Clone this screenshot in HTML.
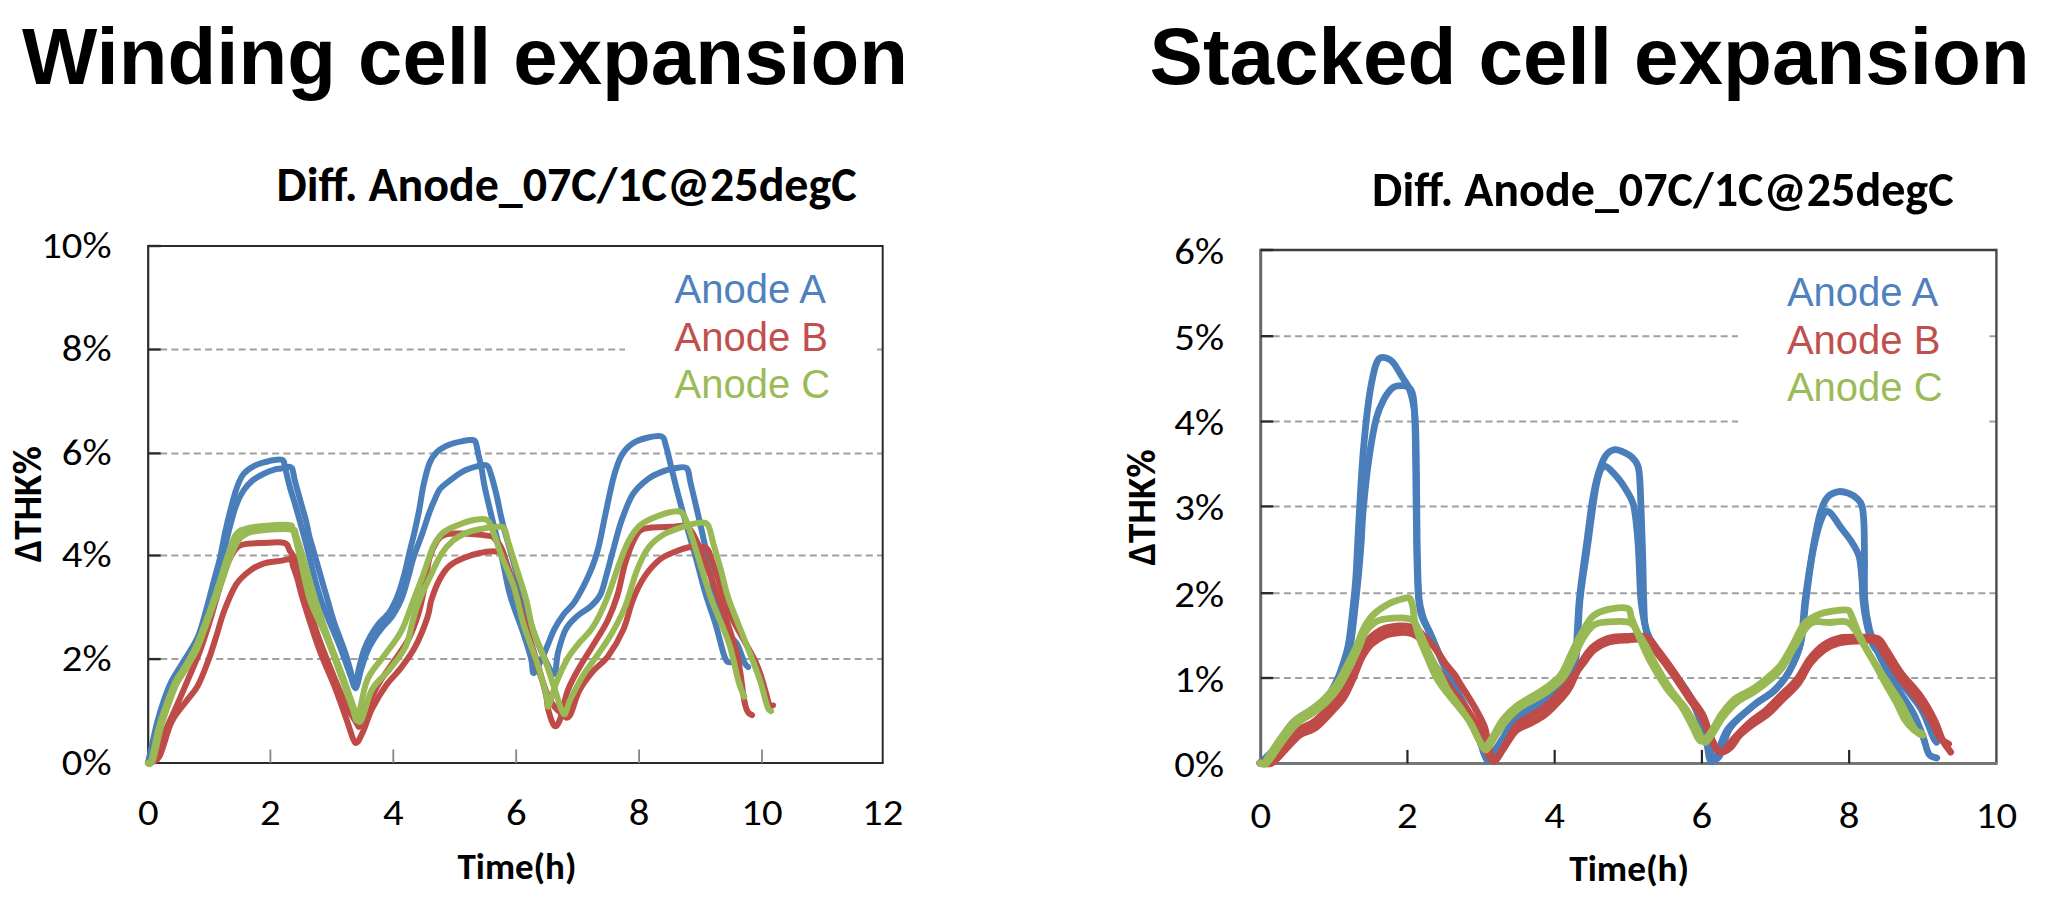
<!DOCTYPE html>
<html><head><meta charset="utf-8"><title>Winding vs Stacked cell expansion</title>
<style>html,body{margin:0;padding:0;background:#fff;} svg{display:block;}</style></head>
<body>
<svg width="2048" height="911" viewBox="0 0 2048 911">
<rect width="2048" height="911" fill="#fff"/>
<text x="22" y="84" font-family="'Liberation Sans', Arial, sans-serif" font-weight="bold" font-size="80" fill="#000" textLength="886" lengthAdjust="spacingAndGlyphs">Winding cell expansion</text>
<text x="1149.6" y="84" font-family="'Liberation Sans', Arial, sans-serif" font-weight="bold" font-size="80" fill="#000" textLength="880" lengthAdjust="spacingAndGlyphs">Stacked cell expansion</text>
<text x="276.6" y="201" font-family="Carlito, 'Liberation Sans', sans-serif" font-weight="bold" font-size="48" fill="#000" textLength="580" lengthAdjust="spacingAndGlyphs">Diff. Anode_07C/1C@25degC</text>
<text x="1372.1" y="206" font-family="Carlito, 'Liberation Sans', sans-serif" font-weight="bold" font-size="48" fill="#000" textLength="581.5" lengthAdjust="spacingAndGlyphs">Diff. Anode_07C/1C@25degC</text>
<g stroke="#A0A0A0" stroke-width="2" stroke-dasharray="7 4.2" fill="none">
<line x1="160.2" y1="659.1" x2="882.7" y2="659.1"/>
<line x1="160.2" y1="555.5" x2="882.7" y2="555.5"/>
<line x1="160.2" y1="453.4" x2="882.7" y2="453.4"/>
<line x1="160.2" y1="349.5" x2="882.7" y2="349.5"/>
</g>
<rect x="625" y="262" width="249" height="158" fill="#fff"/>
<line x1="148.2" y1="246" x2="882.7" y2="246" stroke="#2b2b2b" stroke-width="2.2"/>
<line x1="882.7" y1="244.9" x2="882.7" y2="763" stroke="#2b2b2b" stroke-width="2.0"/>
<line x1="148.2" y1="244.9" x2="148.2" y2="764.1" stroke="#2b2b2b" stroke-width="2.2"/>
<line x1="148.2" y1="763" x2="883.7" y2="763" stroke="#2b2b2b" stroke-width="2.2"/>
<g stroke="#2b2b2b" stroke-width="2.4">
<line x1="148.2" y1="659.1" x2="160.7" y2="659.1"/>
<line x1="148.2" y1="555.5" x2="160.7" y2="555.5"/>
<line x1="148.2" y1="453.4" x2="160.7" y2="453.4"/>
<line x1="148.2" y1="349.5" x2="160.7" y2="349.5"/>
<line x1="148.2" y1="246" x2="160.7" y2="246"/>
</g>
<g stroke="#858585" stroke-width="1.8">
<line x1="270.4" y1="763" x2="270.4" y2="749.5"/>
<line x1="393.3" y1="763" x2="393.3" y2="749.5"/>
<line x1="516.2" y1="763" x2="516.2" y2="749.5"/>
<line x1="639.1" y1="763" x2="639.1" y2="749.5"/>
<line x1="762.0" y1="763" x2="762.0" y2="749.5"/>
</g>
<g fill="none" stroke-linejoin="round" stroke-linecap="round">
<path d="M148.0,763.0 C148.7,760.0 150.5,751.8 152.0,745.0 C153.5,738.2 155.2,729.8 157.2,722.3 C159.2,714.8 161.6,706.8 164.0,700.0 C166.4,693.2 168.1,688.1 171.4,681.6 C174.7,675.1 179.2,668.8 183.6,661.3 C188.0,653.8 194.1,645.4 197.8,636.9 C201.5,628.4 203.3,620.0 206.0,610.5 C208.7,601.0 211.8,588.8 214.1,580.0 C216.4,571.2 218.2,565.8 220.0,558.0 C221.8,550.2 223.0,542.0 224.9,533.3 C226.8,524.6 229.5,513.6 231.5,505.9 C233.5,498.2 235.0,492.5 237.0,487.2 C239.0,481.9 240.8,477.5 243.5,474.0 C246.2,470.5 249.7,468.3 253.4,466.3 C257.1,464.3 261.6,463.1 265.5,462.0 C269.4,460.9 273.6,460.1 276.5,459.8 C279.4,459.5 281.6,458.9 283.1,460.3 C284.6,461.8 284.2,464.2 285.3,468.5 C286.4,472.8 287.8,479.5 289.6,486.1 C291.4,492.7 294.2,501.2 296.2,508.1 C298.2,515.0 300.0,521.5 301.7,527.8 C303.4,534.1 304.5,537.7 306.6,545.7 C308.7,553.7 311.7,567.0 314.1,576.0 C316.5,585.0 318.6,592.7 321.0,600.0 C323.4,607.3 325.3,611.5 328.6,619.6 C331.9,627.7 337.1,639.4 340.7,648.6 C344.3,657.8 347.9,668.6 350.3,675.0 C352.7,681.4 353.8,688.2 355.2,687.0 C356.6,685.8 357.5,674.2 359.0,668.0 C360.5,661.8 362.1,655.3 364.0,650.0 C365.9,644.7 368.2,640.2 370.5,636.0 C372.8,631.8 374.8,628.5 378.0,624.5 C381.2,620.5 386.3,616.8 389.6,611.9 C392.9,607.0 395.3,601.7 397.8,595.4 C400.3,589.1 402.5,581.1 404.4,574.0 C406.3,566.9 407.8,559.5 409.4,552.6 C411.0,545.8 412.7,540.0 414.3,532.9 C415.9,525.8 417.7,517.9 419.2,509.9 C420.7,501.9 421.8,492.9 423.5,485.2 C425.2,477.5 427.1,469.1 429.4,463.5 C431.7,457.9 434.0,454.7 437.3,451.6 C440.6,448.5 444.8,446.5 449.1,444.7 C453.4,442.9 459.3,441.8 463.0,441.0 C466.7,440.2 469.4,439.8 471.5,440.0 C473.6,440.2 474.3,439.5 475.5,442.0 C476.7,444.5 477.5,450.7 478.5,455.0 C479.5,459.3 480.4,462.4 481.5,468.0 C482.6,473.6 483.1,479.6 485.0,488.4 C486.9,497.2 489.8,509.1 492.7,521.0 C495.6,532.9 499.4,547.2 502.3,559.5 C505.2,571.8 506.5,582.7 510.0,595.0 C513.5,607.3 519.9,622.8 523.4,633.4 C526.9,644.0 529.3,651.8 531.1,658.4 C532.9,665.0 531.8,674.0 534.0,673.0 C536.2,672.0 541.1,659.8 544.5,652.6 C547.9,645.4 550.9,636.0 554.1,629.6 C557.3,623.2 560.2,619.0 563.7,614.2 C567.2,609.4 570.8,608.0 575.3,600.8 C579.8,593.6 586.8,579.8 590.6,571.0 C594.4,562.2 595.7,557.9 598.3,548.0 C600.9,538.1 603.4,523.2 606.0,511.4 C608.6,499.5 611.1,486.2 613.7,476.9 C616.3,467.6 618.2,461.3 621.4,455.7 C624.6,450.1 628.4,446.2 632.9,443.2 C637.4,440.2 643.4,438.6 648.2,437.5 C653.0,436.4 658.8,435.4 661.7,436.5 C664.6,437.6 663.9,439.1 665.5,444.2 C667.1,449.3 669.0,458.3 671.3,467.3 C673.5,476.3 676.1,487.1 679.0,498.0 C681.9,508.9 685.7,522.4 688.6,532.6 C691.5,542.9 693.4,549.1 696.3,559.5 C699.2,569.9 702.7,584.3 705.9,595.0 C709.1,605.7 712.6,614.2 715.5,623.8 C718.4,633.4 721.3,646.4 723.2,652.6 C725.1,658.9 725.7,659.7 727.0,661.3 C728.3,662.9 730.2,662.1 730.8,662.2" stroke="#4A7EBB" stroke-width="6"/>
<path d="M148.0,763.0 C148.8,760.0 151.2,751.7 153.0,745.0 C154.8,738.3 156.3,730.3 158.5,723.0 C160.7,715.7 163.6,707.7 166.0,701.0 C168.4,694.3 169.8,689.3 173.0,683.0 C176.2,676.7 181.1,670.4 185.5,663.0 C189.9,655.6 195.8,647.0 199.5,638.5 C203.2,630.0 205.2,621.4 208.0,612.0 C210.8,602.6 213.7,590.7 216.0,582.0 C218.3,573.3 220.0,568.1 222.0,560.0 C224.0,551.9 225.9,542.3 228.2,533.3 C230.5,524.3 233.3,513.0 235.9,505.9 C238.5,498.8 240.8,494.7 243.5,490.5 C246.2,486.3 249.0,483.4 252.3,480.6 C255.6,477.9 259.6,475.8 263.3,474.0 C267.0,472.2 271.4,470.5 274.3,469.6 C277.2,468.7 279.1,468.9 280.9,468.5 C282.7,468.1 283.5,467.5 285.3,467.4 C287.1,467.3 290.2,465.6 291.8,468.0 C293.4,470.4 293.6,476.1 295.1,481.7 C296.6,487.3 298.8,494.9 300.6,501.5 C302.4,508.1 304.6,515.4 306.1,521.2 C307.6,527.1 308.2,532.0 309.4,536.6 C310.5,541.2 311.0,541.9 313.0,549.0 C315.0,556.1 319.2,570.8 321.5,579.0 C323.8,587.2 324.9,590.8 327.0,598.0 C329.1,605.2 331.0,613.0 334.0,622.0 C337.0,631.0 342.0,643.0 345.0,652.0 C348.0,661.0 350.2,670.0 352.0,676.0 C353.8,682.0 354.5,689.0 356.0,688.0 C357.5,687.0 359.2,676.0 361.0,670.0 C362.8,664.0 364.8,657.2 367.0,652.0 C369.2,646.8 371.5,643.0 374.0,639.0 C376.5,635.0 378.8,632.0 382.0,628.0 C385.2,624.0 389.8,619.8 393.0,615.0 C396.2,610.2 399.0,605.2 401.5,599.0 C404.0,592.8 406.2,584.3 408.0,578.0 C409.8,571.7 411.1,565.8 412.5,561.0 C413.9,556.2 414.8,553.7 416.5,549.0 C418.2,544.3 420.4,538.9 422.5,532.9 C424.6,526.9 427.1,518.7 429.1,513.2 C431.1,507.7 432.7,504.0 434.5,500.0 C436.3,496.0 437.6,492.1 440.0,489.0 C442.4,485.9 445.3,484.1 449.1,481.2 C452.9,478.3 458.4,473.9 463.0,471.4 C467.6,468.9 472.9,467.4 476.8,466.4 C480.8,465.4 484.4,464.2 486.7,465.4 C489.0,466.5 489.0,468.4 490.6,473.3 C492.2,478.2 494.5,486.8 496.5,495.0 C498.5,503.2 499.6,511.3 502.5,522.7 C505.4,534.1 510.3,550.4 513.8,563.3 C517.3,576.1 520.2,588.7 523.4,599.8 C526.6,610.9 529.7,620.8 533.0,630.0 C536.3,639.2 539.5,647.7 543.0,655.0 C546.5,662.3 551.5,674.4 554.0,674.0 C556.5,673.6 556.1,660.0 558.0,652.6 C559.9,645.2 562.4,635.7 565.6,629.6 C568.8,623.5 573.0,620.0 577.2,616.1 C581.4,612.2 586.8,610.0 590.6,606.5 C594.4,603.0 597.6,600.0 600.2,595.0 C602.8,590.0 603.8,584.6 606.0,576.8 C608.2,569.0 611.1,557.3 613.7,548.0 C616.3,538.7 618.2,530.0 621.4,521.0 C624.6,512.0 628.4,501.2 632.9,494.2 C637.4,487.2 643.1,482.6 648.2,478.8 C653.3,475.0 659.1,472.9 663.6,471.1 C668.1,469.3 671.2,468.7 675.1,468.2 C679.0,467.7 684.1,465.8 686.7,468.2 C689.3,470.6 688.6,474.8 690.5,482.6 C692.4,490.5 695.6,504.1 698.2,515.3 C700.8,526.5 703.7,539.3 705.9,549.9 C708.1,560.5 710.0,570.4 711.6,578.7 C713.2,587.0 713.3,591.2 715.5,599.8 C717.7,608.3 721.5,622.7 725.0,630.0 C728.5,637.3 733.4,638.0 736.6,643.4 C739.8,648.8 742.4,658.3 744.3,662.2 C746.2,666.1 747.5,666.2 748.1,667.0" stroke="#4A7EBB" stroke-width="6"/>
<path d="M148.0,763.0 C149.5,761.3 154.0,758.9 157.2,752.8 C160.4,746.7 164.0,734.4 167.4,726.3 C170.8,718.2 173.8,712.5 177.5,704.0 C181.2,695.5 186.0,684.3 189.7,675.5 C193.4,666.7 196.5,660.2 199.9,651.1 C203.3,642.0 207.3,629.2 210.0,620.7 C212.7,612.2 213.7,607.8 216.0,600.0 C218.3,592.2 221.4,581.1 223.9,573.8 C226.4,566.5 228.7,560.7 231.0,556.2 C233.3,551.7 235.4,548.7 238.0,546.6 C240.6,544.5 242.8,544.5 246.8,543.9 C250.8,543.3 255.8,543.2 262.0,543.0 C268.2,542.8 279.7,541.5 284.3,542.8 C288.9,544.0 287.9,547.8 289.7,550.5 C291.5,553.2 293.7,556.0 295.2,559.3 C296.7,562.6 297.2,565.5 298.5,570.3 C299.8,575.0 301.6,582.8 303.0,587.8 C304.4,592.8 304.1,592.0 306.6,600.0 C309.1,608.0 313.8,624.0 318.0,636.0 C322.2,648.0 327.3,660.5 332.0,672.0 C336.7,683.5 342.0,696.7 346.0,705.0 C350.0,713.3 353.7,718.5 356.0,722.0 C358.3,725.5 358.2,728.3 360.0,726.0 C361.8,723.7 364.0,714.8 367.0,708.0 C370.0,701.2 373.8,692.3 378.0,685.0 C382.2,677.7 387.0,671.5 392.0,664.0 C397.0,656.5 403.7,648.2 408.0,640.0 C412.3,631.8 415.3,623.3 418.0,615.0 C420.7,606.7 422.1,599.5 424.0,590.0 C425.9,580.5 427.2,566.5 429.4,558.3 C431.6,550.0 434.7,544.5 437.3,540.5 C439.9,536.5 441.6,535.8 445.2,534.6 C448.8,533.5 452.1,533.4 459.0,533.6 C465.9,533.8 480.8,534.8 486.7,535.6 C492.6,536.4 492.0,536.0 494.6,538.5 C497.2,541.0 500.3,545.3 502.5,550.4 C504.7,555.5 505.5,560.9 508.0,569.1 C510.5,577.3 514.4,589.6 517.6,599.8 C520.8,609.9 523.6,619.1 527.0,630.0 C530.4,640.9 534.8,654.2 538.0,665.0 C541.2,675.8 544.3,687.5 546.0,695.0 C547.7,702.5 547.0,705.2 548.4,710.3 C549.8,715.4 552.2,724.0 554.1,725.6 C556.0,727.2 557.6,725.7 559.9,719.9 C562.1,714.1 564.4,699.6 567.6,691.0 C570.8,682.4 574.6,676.0 579.1,668.0 C583.6,660.0 589.7,651.0 594.5,643.0 C599.3,635.0 604.1,628.0 607.9,620.0 C611.7,612.0 614.6,604.5 617.5,595.0 C620.4,585.5 622.3,572.8 625.2,563.3 C628.1,553.8 631.6,544.1 634.8,538.3 C638.0,532.5 638.3,530.6 644.4,528.7 C650.5,526.8 664.2,527.1 671.3,526.8 C678.3,526.5 682.5,524.5 686.7,526.8 C690.9,529.0 692.8,533.2 696.3,540.3 C699.8,547.3 704.0,559.2 707.8,569.1 C711.6,579.0 714.5,585.9 719.3,599.8 C724.1,613.7 732.4,635.8 736.6,652.6 C740.8,669.4 742.4,690.7 744.3,700.6 C746.2,710.5 746.8,709.8 748.1,712.2 C749.4,714.6 751.4,714.5 752.0,715.0" stroke="#BE4B48" stroke-width="6"/>
<path d="M148.0,763.0 C149.9,762.0 155.3,763.6 159.2,756.8 C163.1,750.0 167.0,731.4 171.4,722.3 C175.8,713.2 181.3,708.1 185.7,702.0 C190.1,695.9 194.1,692.5 197.8,685.7 C201.5,678.9 204.9,669.4 208.0,661.3 C211.1,653.2 213.4,645.4 216.1,636.9 C218.8,628.4 221.0,619.2 224.3,610.5 C227.7,601.8 231.9,591.1 236.2,584.4 C240.5,577.7 245.6,573.8 250.3,570.3 C255.0,566.8 259.1,564.9 264.4,563.3 C269.7,561.7 277.5,561.3 281.9,560.6 C286.3,559.9 288.9,558.4 290.8,559.3 C292.7,560.2 291.9,562.7 293.0,566.0 C294.1,569.3 295.7,573.4 297.4,579.0 C299.1,584.6 299.4,588.2 303.0,599.8 C306.6,611.4 313.5,633.6 319.0,648.6 C324.5,663.6 331.0,677.1 335.8,689.6 C340.6,702.1 344.7,714.5 347.9,723.4 C351.1,732.2 352.8,741.1 355.2,742.7 C357.6,744.3 359.6,738.6 362.4,733.0 C365.2,727.4 368.0,716.9 372.0,708.9 C376.0,700.9 381.7,691.6 386.5,684.8 C391.3,678.0 396.2,674.3 401.0,667.9 C405.8,661.5 411.1,654.7 415.5,646.2 C419.9,637.8 424.9,624.9 427.5,617.2 C430.1,609.5 429.4,606.0 431.4,599.8 C433.4,593.6 436.4,585.6 439.3,580.0 C442.2,574.4 445.2,569.8 449.1,566.2 C453.1,562.6 458.1,560.4 463.0,558.3 C467.9,556.1 473.5,554.4 478.8,553.3 C484.1,552.1 490.7,551.2 494.6,551.4 C498.6,551.6 499.9,550.5 502.5,554.3 C505.1,558.1 507.8,566.4 510.4,574.0 C513.0,581.6 515.5,590.1 518.3,599.8 C521.1,609.5 523.7,620.6 527.0,632.0 C530.3,643.4 534.2,656.7 538.0,668.0 C541.8,679.3 546.0,692.3 550.0,700.0 C554.0,707.7 558.8,711.3 562.0,714.0 C565.2,716.7 566.6,719.8 569.5,716.0 C572.4,712.2 575.3,698.4 579.1,691.0 C582.9,683.6 587.7,677.5 592.5,671.8 C597.3,666.0 602.8,663.5 607.9,656.5 C613.0,649.5 619.1,639.1 623.3,629.6 C627.5,620.1 629.4,608.6 632.9,599.8 C636.4,591.0 639.9,583.5 644.4,576.8 C648.9,570.1 654.7,563.7 659.8,559.5 C664.9,555.3 670.0,553.9 675.1,551.8 C680.2,549.7 685.4,547.6 690.5,547.0 C695.6,546.4 702.4,545.8 705.9,547.9 C709.4,550.0 709.4,553.7 711.6,559.5 C713.8,565.3 717.0,575.8 719.3,582.5 C721.5,589.2 722.9,593.5 725.1,599.8 C727.4,606.0 727.7,609.6 732.8,620.0 C737.9,630.4 750.4,650.4 755.8,662.2 C761.2,674.0 763.1,684.0 765.4,691.0 C767.6,698.0 768.0,702.1 769.3,704.5 C770.6,706.9 772.5,705.2 773.1,705.4" stroke="#BE4B48" stroke-width="6"/>
<path d="M148.0,763.0 C148.5,762.7 149.2,767.1 151.1,761.0 C153.0,754.9 156.5,736.1 159.2,726.3 C161.9,716.5 164.7,709.5 167.4,702.0 C170.1,694.5 172.4,687.7 175.5,681.6 C178.6,675.5 182.3,671.1 185.7,665.4 C189.1,659.6 192.8,653.5 195.8,647.1 C198.8,640.7 201.2,633.8 203.9,626.7 C206.6,619.6 209.4,612.2 212.1,604.4 C214.8,596.6 217.5,588.2 220.2,580.0 C222.8,571.8 225.4,562.5 228.0,555.0 C230.6,547.5 232.9,539.3 235.7,535.0 C238.5,530.7 240.3,530.5 245.0,529.0 C249.7,527.5 256.4,526.7 263.7,526.0 C271.0,525.3 284.1,524.3 289.0,525.0 C293.9,525.7 291.3,525.3 293.0,530.0 C294.7,534.7 296.2,541.3 299.0,553.0 C301.8,564.7 305.5,586.1 310.0,600.0 C314.5,613.9 321.1,624.0 326.2,636.5 C331.3,649.0 336.3,663.0 340.7,675.1 C345.1,687.2 349.9,701.6 352.7,708.9 C355.5,716.1 355.2,723.4 357.6,718.6 C360.0,713.8 362.8,690.5 367.2,680.0 C371.6,669.5 378.5,663.8 384.1,655.8 C389.7,647.8 396.1,641.0 401.0,631.7 C405.9,622.4 409.9,609.4 413.6,599.8 C417.4,590.2 420.2,582.9 423.5,574.0 C426.8,565.1 430.0,553.3 433.3,546.4 C436.6,539.5 438.9,536.2 443.2,532.6 C447.5,529.0 453.7,526.8 459.0,524.7 C464.3,522.6 470.2,520.6 474.8,519.8 C479.4,519.0 483.7,518.0 486.7,519.8 C489.7,521.6 490.0,524.2 492.6,530.6 C495.2,537.0 498.9,548.8 502.5,558.3 C506.1,567.8 510.8,577.0 514.3,587.9 C517.8,598.8 519.6,611.4 523.4,623.8 C527.1,636.2 533.0,650.4 536.8,662.2 C540.6,674.1 544.5,687.5 546.4,694.9 C548.3,702.3 546.8,708.3 548.4,706.4 C550.0,704.5 552.8,691.4 556.0,683.4 C559.2,675.4 563.8,665.1 567.6,658.4 C571.5,651.7 575.0,648.1 579.1,643.0 C583.2,637.9 588.0,634.7 592.5,627.7 C597.0,620.7 601.5,611.5 606.0,600.8 C610.5,590.1 615.6,573.4 619.4,563.3 C623.2,553.2 625.5,546.7 629.0,540.3 C632.5,533.9 635.5,529.1 640.6,524.9 C645.7,520.7 653.4,517.5 659.8,515.3 C666.2,513.0 674.9,511.1 679.0,511.4 C683.1,511.7 682.8,513.7 684.7,517.2 C686.6,520.7 687.9,524.9 690.5,532.6 C693.1,540.3 696.6,552.1 700.1,563.3 C703.6,574.5 706.8,586.5 711.6,599.8 C716.4,613.1 724.4,629.4 728.9,643.0 C733.4,656.6 735.9,672.4 738.5,681.4 C741.1,690.4 743.3,694.2 744.3,696.8" stroke="#98B954" stroke-width="6"/>
<path d="M148.0,763.0 C148.8,762.5 150.8,766.0 153.0,760.0 C155.2,754.0 158.3,736.5 161.0,727.0 C163.7,717.5 166.3,710.3 169.0,703.0 C171.7,695.7 174.0,689.0 177.0,683.0 C180.0,677.0 183.7,672.7 187.0,667.0 C190.3,661.3 194.0,655.5 197.0,649.0 C200.0,642.5 202.3,635.2 205.0,628.0 C207.7,620.8 210.2,613.8 213.0,606.0 C215.8,598.2 219.2,589.0 222.0,581.0 C224.8,573.0 227.3,564.7 230.0,558.0 C232.7,551.3 235.0,545.2 238.0,541.0 C241.0,536.8 243.5,534.8 248.0,533.0 C252.5,531.2 257.7,530.6 265.0,530.0 C272.3,529.4 286.8,528.7 292.0,529.5 C297.2,530.3 294.2,530.4 296.0,535.0 C297.8,539.6 299.7,545.8 303.0,557.0 C306.3,568.2 311.7,588.2 316.0,602.0 C320.3,615.8 324.5,627.5 329.0,640.0 C333.5,652.5 338.8,665.7 343.0,677.0 C347.2,688.3 351.1,700.6 354.0,708.0 C356.9,715.4 357.7,724.4 360.7,721.3 C363.7,718.2 367.2,698.1 371.9,689.6 C376.6,681.1 383.2,677.5 388.9,670.3 C394.5,663.1 401.8,654.6 405.8,646.2 C409.8,637.8 410.7,627.7 413.0,620.0 C415.3,612.3 416.4,607.5 419.5,599.8 C422.6,592.1 427.8,581.6 431.4,574.0 C435.0,566.4 437.6,559.9 441.2,554.3 C444.8,548.7 448.8,544.1 453.1,540.5 C457.4,536.9 462.0,534.6 466.9,532.6 C471.8,530.6 477.4,529.6 482.7,528.6 C488.0,527.6 494.9,526.7 498.5,526.7 C502.1,526.7 502.8,526.0 504.4,528.6 C506.0,531.2 506.1,534.9 508.4,542.5 C510.7,550.1 515.3,564.5 518.3,574.0 C521.3,583.5 523.8,590.5 526.2,599.8 C528.7,609.1 529.9,620.0 533.0,630.0 C536.1,640.0 541.3,650.0 545.0,660.0 C548.7,670.0 551.9,681.0 555.0,690.0 C558.1,699.0 561.2,712.4 563.7,714.1 C566.2,715.8 566.8,706.4 570.0,700.0 C573.2,693.6 578.5,683.0 582.9,675.7 C587.3,668.5 591.6,663.5 596.4,656.5 C601.2,649.5 606.9,641.7 611.7,633.4 C616.5,625.1 621.0,616.9 625.2,606.5 C629.4,596.1 632.9,580.8 636.7,571.0 C640.5,561.2 643.7,554.1 648.2,548.0 C652.7,541.9 657.8,538.0 663.6,534.5 C669.4,531.0 677.0,528.7 682.8,526.8 C688.6,524.9 694.0,523.3 698.2,523.0 C702.4,522.7 705.2,521.4 707.8,524.9 C710.3,528.4 711.3,536.4 713.5,544.1 C715.7,551.8 718.6,561.7 721.2,571.0 C723.8,580.3 724.4,586.8 728.9,599.8 C733.4,612.8 743.0,635.5 748.1,648.8 C753.2,662.1 756.5,669.9 759.7,679.5 C762.9,689.1 765.4,701.1 767.3,706.4 C769.2,711.7 770.6,710.4 771.2,711.2" stroke="#98B954" stroke-width="6"/>
</g>
<g font-family="Carlito, 'Liberation Sans', sans-serif" font-size="37" fill="#000" text-anchor="end">
<text transform="translate(111.5,774.8) scale(1.1,1)" textLength="45.2" lengthAdjust="spacingAndGlyphs">0%</text>
<text transform="translate(111.5,670.9) scale(1.1,1)" textLength="45.2" lengthAdjust="spacingAndGlyphs">2%</text>
<text transform="translate(111.5,567.3) scale(1.1,1)" textLength="45.2" lengthAdjust="spacingAndGlyphs">4%</text>
<text transform="translate(111.5,465.2) scale(1.1,1)" textLength="45.2" lengthAdjust="spacingAndGlyphs">6%</text>
<text transform="translate(111.5,361.3) scale(1.1,1)" textLength="45.2" lengthAdjust="spacingAndGlyphs">8%</text>
<text transform="translate(111.5,257.8) scale(1.1,1)" textLength="63.97" lengthAdjust="spacingAndGlyphs">10%</text>
</g>
<g font-family="Carlito, 'Liberation Sans', sans-serif" font-size="37" fill="#000" text-anchor="middle">
<text transform="translate(148.2,825) scale(1.1,1)" textLength="18.77" lengthAdjust="spacingAndGlyphs">0</text>
<text transform="translate(270.4,825) scale(1.1,1)" textLength="18.77" lengthAdjust="spacingAndGlyphs">2</text>
<text transform="translate(393.3,825) scale(1.1,1)" textLength="18.77" lengthAdjust="spacingAndGlyphs">4</text>
<text transform="translate(516.2,825) scale(1.1,1)" textLength="18.77" lengthAdjust="spacingAndGlyphs">6</text>
<text transform="translate(639.1,825) scale(1.1,1)" textLength="18.77" lengthAdjust="spacingAndGlyphs">8</text>
<text transform="translate(762.0,825) scale(1.1,1)" textLength="37.52" lengthAdjust="spacingAndGlyphs">10</text>
<text transform="translate(882.7,825) scale(1.1,1)" textLength="37.52" lengthAdjust="spacingAndGlyphs">12</text>
</g>
<text x="674.6" y="302.8" font-family="'Liberation Sans', Arial, sans-serif" font-size="40" fill="#4F81BD">Anode A</text>
<text x="674.6" y="350.7" font-family="'Liberation Sans', Arial, sans-serif" font-size="40" fill="#C0504D">Anode B</text>
<text x="674.6" y="398.3" font-family="'Liberation Sans', Arial, sans-serif" font-size="40" fill="#9BBB59">Anode C</text>
<text transform="translate(40.5,562.2) rotate(-90)" font-family="Carlito, 'Liberation Sans', sans-serif" font-weight="bold" font-size="39.5" fill="#000" textLength="116" lengthAdjust="spacingAndGlyphs">ΔTHK%</text>
<text x="457.5" y="878.5" font-family="Carlito, 'Liberation Sans', sans-serif" font-weight="bold" font-size="37" fill="#000" textLength="119" lengthAdjust="spacingAndGlyphs">Time(h)</text>
<g stroke="#A0A0A0" stroke-width="2" stroke-dasharray="7 4.2" fill="none">
<line x1="1272.7" y1="678" x2="1996.4" y2="678"/>
<line x1="1272.7" y1="593.2" x2="1996.4" y2="593.2"/>
<line x1="1272.7" y1="506.4" x2="1996.4" y2="506.4"/>
<line x1="1272.7" y1="421.5" x2="1996.4" y2="421.5"/>
<line x1="1272.7" y1="336.2" x2="1996.4" y2="336.2"/>
</g>
<rect x="1738" y="265" width="248" height="167" fill="#fff"/>
<line x1="1260.7" y1="250" x2="1996.4" y2="250" stroke="#3c3c3c" stroke-width="2.6"/>
<line x1="1996.4" y1="248.7" x2="1996.4" y2="763.4" stroke="#4a4a4a" stroke-width="2.4"/>
<line x1="1260.7" y1="248.7" x2="1260.7" y2="764.9" stroke="#676767" stroke-width="3.0"/>
<line x1="1260.7" y1="763.4" x2="1997.6000000000001" y2="763.4" stroke="#767676" stroke-width="3.0"/>
<g stroke="#2a2a2a" stroke-width="2.4">
<line x1="1260.7" y1="678" x2="1273.2" y2="678"/>
<line x1="1260.7" y1="593.2" x2="1273.2" y2="593.2"/>
<line x1="1260.7" y1="506.4" x2="1273.2" y2="506.4"/>
<line x1="1260.7" y1="421.5" x2="1273.2" y2="421.5"/>
<line x1="1260.7" y1="336.2" x2="1273.2" y2="336.2"/>
<line x1="1260.7" y1="250" x2="1273.2" y2="250"/>
</g>
<g stroke="#262626" stroke-width="2.2">
<line x1="1407.44" y1="763.4" x2="1407.44" y2="749.9"/>
<line x1="1554.68" y1="763.4" x2="1554.68" y2="749.9"/>
<line x1="1701.92" y1="763.4" x2="1701.92" y2="749.9"/>
<line x1="1849.16" y1="763.4" x2="1849.16" y2="749.9"/>
</g>
<g fill="none" stroke-linejoin="round" stroke-linecap="round">
<path d="M1260.0,763.0 C1262.3,760.7 1268.3,755.9 1273.7,749.3 C1279.1,742.6 1286.1,729.6 1292.3,723.1 C1298.5,716.6 1305.4,714.0 1311.0,710.0 C1316.6,706.0 1321.6,703.9 1325.9,698.9 C1330.2,693.9 1334.2,685.8 1337.0,680.0 C1339.8,674.2 1341.1,669.8 1343.0,664.0 C1344.9,658.2 1346.8,652.8 1348.3,645.0 C1349.8,637.2 1350.8,627.8 1352.0,617.0 C1353.2,606.2 1354.8,592.0 1355.7,580.0 C1356.6,568.0 1357.0,556.7 1357.6,545.0 C1358.2,533.3 1358.6,525.3 1359.5,509.8 C1360.4,494.3 1361.7,470.4 1363.2,452.0 C1364.8,433.6 1366.9,413.4 1368.8,399.7 C1370.7,386.0 1372.7,376.7 1374.4,369.9 C1376.1,363.1 1377.2,360.7 1379.1,358.7 C1381.0,356.7 1383.3,357.1 1385.6,357.7 C1387.9,358.3 1390.2,359.1 1393.0,362.4 C1395.8,365.7 1399.6,372.6 1402.4,377.3 C1405.2,382.0 1407.8,384.2 1409.9,390.4 C1412.0,396.6 1413.8,404.3 1414.8,414.6 C1415.8,424.9 1415.9,436.1 1416.2,452.0 C1416.5,467.9 1416.6,491.6 1416.8,509.8 C1417.0,528.0 1417.1,546.3 1417.5,561.0 C1417.9,575.7 1418.1,588.7 1419.0,598.0 C1419.9,607.3 1421.2,611.2 1423.0,617.0 C1424.8,622.8 1426.9,625.8 1430.0,633.0 C1433.1,640.2 1437.2,650.5 1441.6,660.0 C1446.0,669.5 1451.8,680.8 1456.5,690.0 C1461.2,699.2 1465.9,707.0 1469.6,715.0 C1473.3,723.0 1476.0,730.5 1478.9,738.0 C1481.8,745.5 1484.3,758.0 1487.0,760.0 C1489.7,762.0 1492.3,753.7 1495.0,750.0 C1497.7,746.3 1499.5,743.7 1503.0,738.0 C1506.5,732.3 1511.5,720.7 1516.2,715.7 C1520.9,710.7 1526.0,710.6 1531.0,708.0 C1536.0,705.4 1541.0,703.8 1546.0,700.0 C1551.0,696.2 1557.0,689.7 1561.0,685.0 C1565.0,680.3 1567.5,677.8 1570.0,672.0 C1572.5,666.2 1574.5,662.0 1576.0,650.0 C1577.5,638.0 1577.5,617.8 1579.3,599.8 C1581.1,581.8 1584.6,558.5 1586.8,542.0 C1589.0,525.5 1590.5,512.1 1592.4,500.9 C1594.3,489.7 1595.8,482.3 1598.0,474.8 C1600.2,467.3 1602.6,460.3 1605.4,456.1 C1608.2,451.9 1611.4,450.1 1614.8,449.6 C1618.2,449.1 1622.7,451.6 1626.0,453.3 C1629.3,455.0 1632.2,456.9 1634.4,459.9 C1636.6,462.8 1637.9,463.6 1639.0,471.0 C1640.1,478.4 1640.3,489.7 1640.9,504.6 C1641.5,519.5 1642.3,544.7 1642.8,560.6 C1643.3,576.5 1643.3,589.3 1643.7,599.8 C1644.1,610.3 1644.1,617.5 1644.9,623.8 C1645.8,630.0 1646.6,632.6 1648.8,637.3 C1651.0,642.0 1654.0,646.2 1658.0,652.0 C1662.0,657.8 1667.8,664.8 1673.0,672.0 C1678.2,679.2 1684.5,687.0 1689.0,695.0 C1693.5,703.0 1697.0,711.7 1700.0,720.0 C1703.0,728.3 1705.3,738.3 1707.0,745.0 C1708.7,751.7 1708.5,757.8 1710.0,760.0 C1711.5,762.2 1713.1,763.1 1716.0,758.0 C1718.9,752.9 1721.4,738.1 1727.5,729.5 C1733.6,720.9 1744.8,712.8 1752.5,706.4 C1760.2,700.0 1767.5,696.8 1773.6,691.0 C1779.7,685.2 1784.5,679.8 1789.0,671.8 C1793.5,663.8 1797.8,655.0 1800.5,643.0 C1803.2,631.0 1803.1,615.1 1805.1,599.8 C1807.1,584.5 1810.0,565.6 1812.5,551.3 C1815.0,537.0 1817.5,523.0 1820.0,514.0 C1822.5,505.0 1824.4,500.9 1827.5,497.2 C1830.6,493.5 1835.1,492.2 1838.7,491.6 C1842.3,491.0 1846.0,492.4 1849.0,493.5 C1852.0,494.6 1854.8,496.4 1857.0,498.5 C1859.2,500.6 1860.8,501.6 1862.0,506.0 C1863.2,510.4 1863.6,515.9 1864.0,525.0 C1864.4,534.1 1864.4,548.1 1864.5,560.6 C1864.6,573.1 1864.0,588.3 1864.8,599.8 C1865.6,611.3 1867.4,620.9 1869.5,629.5 C1871.6,638.1 1873.1,642.1 1877.4,651.3 C1881.7,660.5 1889.3,674.7 1895.2,684.9 C1901.1,695.1 1908.4,704.0 1913.0,712.5 C1917.6,721.0 1920.3,729.3 1922.9,736.2 C1925.5,743.1 1926.5,750.4 1928.8,754.0 C1931.1,757.6 1935.4,757.3 1936.7,758.0" stroke="#4A7EBB" stroke-width="6.8"/>
<path d="M1260.0,763.0 C1262.5,760.8 1269.3,756.5 1275.0,750.0 C1280.7,743.5 1287.8,730.5 1294.0,724.0 C1300.2,717.5 1306.5,715.0 1312.0,711.0 C1317.5,707.0 1322.3,705.2 1327.0,700.0 C1331.7,694.8 1336.8,686.0 1340.0,680.0 C1343.2,674.0 1344.2,669.8 1346.0,664.0 C1347.8,658.2 1349.2,652.8 1350.5,645.0 C1351.8,637.2 1352.8,627.8 1354.0,617.0 C1355.2,606.2 1356.8,592.0 1358.0,580.0 C1359.2,568.0 1360.1,556.7 1361.0,545.0 C1361.9,533.3 1361.9,524.1 1363.2,509.8 C1364.5,495.5 1366.6,474.6 1368.8,459.4 C1371.0,444.2 1373.8,428.3 1376.3,418.4 C1378.8,408.4 1380.9,404.8 1383.7,399.7 C1386.5,394.6 1389.9,389.9 1393.0,387.6 C1396.1,385.3 1399.6,385.6 1402.4,385.7 C1405.2,385.8 1408.0,386.2 1409.9,388.5 C1411.8,390.8 1412.7,392.2 1413.6,399.7 C1414.5,407.2 1414.8,414.9 1415.2,433.3 C1415.6,451.7 1415.9,488.5 1416.2,509.8 C1416.5,531.1 1416.6,546.3 1417.0,561.0 C1417.4,575.7 1417.7,588.7 1418.5,598.0 C1419.3,607.3 1420.1,611.2 1422.0,617.0 C1423.9,622.8 1426.7,625.8 1430.0,633.0 C1433.3,640.2 1437.2,650.5 1441.6,660.0 C1446.0,669.5 1451.8,680.8 1456.5,690.0 C1461.2,699.2 1465.9,707.0 1469.6,715.0 C1473.3,723.0 1476.0,730.8 1478.9,738.0 C1481.8,745.2 1484.3,755.7 1487.0,758.0 C1489.7,760.3 1492.0,755.0 1495.0,752.0 C1498.0,749.0 1501.2,745.7 1505.0,740.0 C1508.8,734.3 1513.3,723.0 1518.0,718.0 C1522.7,713.0 1528.0,712.7 1533.0,710.0 C1538.0,707.3 1543.0,705.8 1548.0,702.0 C1553.0,698.2 1559.0,691.7 1563.0,687.0 C1567.0,682.3 1569.7,680.2 1572.0,674.0 C1574.3,667.8 1575.7,662.4 1577.0,650.0 C1578.3,637.6 1578.3,616.5 1580.0,599.8 C1581.7,583.1 1584.3,569.0 1587.0,550.0 C1589.7,531.0 1593.3,499.9 1596.1,486.0 C1598.9,472.1 1600.2,468.0 1603.6,466.4 C1607.0,464.8 1612.9,472.7 1616.6,476.6 C1620.3,480.5 1623.2,485.0 1626.0,489.7 C1628.8,494.4 1631.5,497.5 1633.4,504.6 C1635.3,511.8 1636.3,523.4 1637.2,532.6 C1638.1,541.8 1638.4,548.8 1639.0,560.0 C1639.6,571.2 1639.9,589.0 1640.9,599.8 C1641.9,610.6 1643.7,618.8 1645.0,625.0 C1646.3,631.2 1646.7,632.3 1649.0,637.0 C1651.3,641.7 1654.8,647.0 1659.0,653.0 C1663.2,659.0 1668.8,665.8 1674.0,673.0 C1679.2,680.2 1685.5,688.0 1690.0,696.0 C1694.5,704.0 1697.8,712.7 1701.0,721.0 C1704.2,729.3 1707.0,739.8 1709.0,746.0 C1711.0,752.2 1711.2,756.5 1713.0,758.0 C1714.8,759.5 1717.2,760.0 1720.0,755.0 C1722.8,750.0 1724.3,736.3 1730.0,728.0 C1735.7,719.7 1746.5,711.3 1754.0,705.0 C1761.5,698.7 1769.0,695.8 1775.0,690.0 C1781.0,684.2 1785.7,678.0 1790.0,670.0 C1794.3,662.0 1798.3,653.7 1801.0,642.0 C1803.7,630.3 1804.0,615.0 1806.0,599.8 C1808.0,584.6 1810.3,564.7 1813.0,551.0 C1815.7,537.3 1819.2,524.2 1821.9,517.7 C1824.6,511.2 1826.2,510.6 1829.3,512.1 C1832.4,513.6 1836.8,522.0 1840.5,527.0 C1844.2,532.0 1848.6,537.0 1851.7,542.0 C1854.8,547.0 1857.5,550.6 1859.2,556.9 C1860.9,563.2 1861.4,572.9 1862.0,580.0 C1862.6,587.1 1862.2,592.3 1863.0,599.8 C1863.8,607.3 1865.3,617.5 1867.0,625.0 C1868.7,632.5 1870.6,640.0 1873.0,645.0 C1875.4,650.0 1876.7,648.9 1881.4,655.2 C1886.1,661.5 1894.5,674.0 1901.1,682.9 C1907.7,691.8 1915.6,699.7 1920.9,708.6 C1926.2,717.5 1930.2,730.6 1932.8,736.2 C1935.4,741.8 1936.0,741.2 1936.7,742.2" stroke="#4A7EBB" stroke-width="6.8"/>
<path d="M1260.0,763.0 C1261.7,762.3 1265.9,762.2 1270.0,759.0 C1274.1,755.8 1279.8,748.8 1284.6,744.0 C1289.3,739.2 1293.5,733.8 1298.5,730.0 C1303.5,726.2 1309.0,725.5 1314.3,721.5 C1319.6,717.5 1325.5,710.9 1330.1,706.0 C1334.7,701.1 1338.4,697.7 1342.0,692.0 C1345.6,686.3 1348.8,678.7 1351.8,672.0 C1354.8,665.3 1356.7,657.6 1359.7,652.0 C1362.7,646.4 1365.6,642.3 1369.6,638.5 C1373.6,634.7 1378.5,631.1 1383.5,629.0 C1388.5,626.9 1394.7,626.3 1399.3,626.0 C1403.9,625.7 1407.6,626.0 1411.1,627.0 C1414.5,628.0 1416.2,628.7 1420.0,632.0 C1423.8,635.3 1429.9,641.5 1434.1,646.8 C1438.3,652.1 1441.9,658.9 1445.3,663.6 C1448.7,668.3 1452.1,671.4 1454.6,674.8 C1457.1,678.2 1456.8,678.4 1460.2,684.0 C1463.6,689.6 1471.0,701.1 1475.1,708.2 C1479.1,715.4 1482.3,720.7 1484.5,726.9 C1486.7,733.1 1486.7,739.9 1488.2,745.5 C1489.8,751.1 1491.3,759.8 1493.8,760.4 C1496.3,761.0 1499.4,754.3 1503.1,749.3 C1506.8,744.3 1511.5,735.0 1516.2,730.6 C1520.9,726.2 1526.1,725.9 1531.1,723.1 C1536.1,720.3 1541.0,717.8 1546.0,713.8 C1551.0,709.8 1557.0,703.3 1561.0,698.9 C1565.0,694.5 1566.6,693.3 1570.0,687.2 C1573.4,681.1 1577.7,668.9 1581.5,662.2 C1585.3,655.5 1588.5,650.9 1593.0,646.9 C1597.5,642.9 1602.6,640.0 1608.4,638.2 C1614.2,636.4 1621.2,636.4 1627.6,636.3 C1634.0,636.1 1641.7,634.9 1646.8,637.3 C1651.9,639.7 1653.9,645.0 1658.4,650.7 C1662.9,656.5 1668.6,664.4 1673.7,671.8 C1678.8,679.2 1684.3,687.8 1689.1,694.9 C1693.9,702.0 1699.3,708.3 1702.5,714.1 C1705.7,719.9 1706.0,723.7 1708.3,729.5 C1710.5,735.3 1713.4,745.2 1716.0,748.7 C1718.6,752.2 1720.5,752.5 1723.7,750.6 C1726.9,748.7 1730.7,741.9 1735.2,737.1 C1739.7,732.3 1745.5,726.3 1750.6,721.8 C1755.7,717.3 1760.8,714.8 1765.9,710.3 C1771.0,705.8 1776.2,700.0 1781.3,694.9 C1786.4,689.8 1791.9,685.6 1796.7,679.5 C1801.5,673.4 1805.6,664.1 1810.1,658.4 C1814.6,652.6 1818.8,648.4 1823.6,645.0 C1828.4,641.6 1833.2,639.5 1838.9,638.2 C1844.7,636.9 1851.7,637.3 1858.1,637.3 C1864.5,637.3 1872.5,636.1 1877.4,638.4 C1882.3,640.7 1883.3,645.5 1887.3,651.3 C1891.2,657.1 1895.5,665.4 1901.1,673.0 C1906.7,680.6 1915.3,688.8 1920.9,696.7 C1926.5,704.6 1931.1,713.1 1934.7,720.4 C1938.3,727.6 1939.9,734.9 1942.6,740.2 C1945.2,745.5 1949.3,750.1 1950.6,752.1" stroke="#BE4B48" stroke-width="6.8"/>
<path d="M1260.0,763.0 C1262.0,763.0 1267.7,765.3 1272.0,763.0 C1276.3,760.7 1281.3,753.7 1286.0,749.0 C1290.7,744.3 1295.0,738.6 1300.0,735.0 C1305.0,731.4 1310.7,731.4 1316.0,727.5 C1321.3,723.6 1327.3,716.5 1332.0,711.5 C1336.7,706.5 1340.4,703.1 1344.0,697.5 C1347.6,691.9 1350.6,684.5 1353.5,678.0 C1356.4,671.5 1358.6,664.1 1361.5,658.5 C1364.4,652.9 1367.1,648.3 1371.0,644.5 C1374.9,640.7 1380.2,637.5 1385.0,635.5 C1389.8,633.5 1395.7,632.8 1400.0,632.5 C1404.3,632.2 1407.8,632.6 1411.0,633.5 C1414.2,634.4 1416.2,634.4 1419.0,638.0 C1421.8,641.6 1424.2,648.9 1428.0,655.0 C1431.8,661.1 1437.6,669.0 1441.6,674.8 C1445.6,680.6 1447.9,684.5 1452.0,690.0 C1456.1,695.5 1461.7,701.8 1466.0,708.0 C1470.3,714.2 1475.0,720.8 1478.0,727.0 C1481.0,733.2 1482.0,739.8 1484.0,745.0 C1486.0,750.2 1488.0,755.5 1490.0,758.0 C1492.0,760.5 1493.5,762.2 1496.0,760.0 C1498.5,757.8 1501.5,750.8 1505.0,745.0 C1508.5,739.2 1512.7,729.8 1517.0,725.0 C1521.3,720.2 1526.2,719.2 1531.0,716.0 C1535.8,712.8 1541.0,710.2 1546.0,706.0 C1551.0,701.8 1556.7,695.7 1561.0,691.0 C1565.3,686.3 1568.5,682.3 1572.0,678.0 C1575.5,673.7 1578.3,669.7 1582.0,665.0 C1585.7,660.3 1589.5,653.8 1594.0,650.0 C1598.5,646.2 1603.3,643.7 1609.0,642.0 C1614.7,640.3 1621.8,640.3 1628.0,640.0 C1634.2,639.7 1641.2,637.8 1646.0,640.0 C1650.8,642.2 1652.7,647.5 1657.0,653.0 C1661.3,658.5 1666.8,665.7 1672.0,673.0 C1677.2,680.3 1683.2,689.8 1688.0,697.0 C1692.8,704.2 1697.0,708.8 1701.0,716.0 C1705.0,723.2 1708.8,734.0 1712.0,740.0 C1715.2,746.0 1717.0,750.7 1720.0,752.0 C1723.0,753.3 1726.7,750.8 1730.0,748.0 C1733.3,745.2 1736.3,738.8 1740.0,735.0 C1743.7,731.2 1747.3,728.5 1752.0,725.0 C1756.7,721.5 1762.8,718.3 1768.0,714.0 C1773.2,709.7 1778.0,704.0 1783.0,699.0 C1788.0,694.0 1793.5,689.8 1798.0,684.0 C1802.5,678.2 1805.7,669.7 1810.0,664.0 C1814.3,658.3 1819.2,653.5 1824.0,650.0 C1828.8,646.5 1833.3,644.5 1839.0,643.0 C1844.7,641.5 1852.2,641.3 1858.0,641.0 C1863.8,640.7 1869.5,638.7 1874.0,641.0 C1878.5,643.3 1880.8,649.0 1885.0,655.0 C1889.2,661.0 1893.5,669.5 1899.0,677.0 C1904.5,684.5 1912.5,692.5 1918.0,700.0 C1923.5,707.5 1928.3,715.7 1932.0,722.0 C1935.7,728.3 1937.2,734.3 1940.0,738.0 C1942.8,741.7 1947.2,743.0 1948.6,744.0" stroke="#BE4B48" stroke-width="6.8"/>
<path d="M1260.0,763.0 C1260.8,762.8 1261.8,765.7 1264.9,762.0 C1268.0,758.3 1273.8,747.8 1278.7,741.0 C1283.6,734.2 1289.2,726.1 1294.5,721.0 C1299.8,715.9 1305.3,714.2 1310.3,710.5 C1315.2,706.8 1319.9,703.2 1324.2,699.0 C1328.5,694.8 1332.4,690.2 1336.0,685.0 C1339.6,679.8 1342.6,673.7 1345.9,667.5 C1349.2,661.3 1352.8,654.5 1355.8,648.0 C1358.8,641.5 1360.7,634.1 1363.7,628.5 C1366.7,622.9 1369.3,618.7 1373.6,614.5 C1377.9,610.3 1384.3,606.2 1389.4,603.5 C1394.5,600.8 1400.6,599.3 1404.0,598.5 C1407.4,597.7 1408.5,596.9 1410.0,598.5 C1411.5,600.1 1412.2,604.4 1413.0,608.0 C1413.8,611.6 1413.3,614.7 1414.5,620.0 C1415.7,625.3 1417.8,633.7 1420.0,640.0 C1422.2,646.3 1425.1,652.3 1427.5,658.0 C1429.9,663.7 1432.2,669.4 1434.5,674.0 C1436.8,678.6 1437.9,680.7 1441.6,685.8 C1445.3,690.9 1451.8,698.6 1456.5,704.5 C1461.2,710.4 1465.9,715.4 1469.6,721.3 C1473.3,727.2 1476.4,735.5 1478.9,739.9 C1481.4,744.2 1482.3,747.7 1484.5,747.4 C1486.7,747.1 1488.8,742.8 1491.9,738.1 C1495.0,733.4 1499.0,724.7 1503.1,719.4 C1507.1,714.1 1511.5,710.0 1516.2,706.3 C1520.9,702.6 1526.1,700.1 1531.1,697.0 C1536.1,693.9 1541.0,691.4 1546.0,687.7 C1551.0,684.0 1556.7,680.6 1561.0,674.6 C1565.3,668.6 1568.6,658.9 1572.0,652.0 C1575.4,645.1 1578.0,639.4 1581.5,633.4 C1585.0,627.4 1588.5,620.1 1593.0,616.1 C1597.5,612.1 1602.6,610.7 1608.4,609.4 C1614.2,608.1 1623.8,607.0 1627.6,608.4 C1631.4,609.8 1629.6,613.2 1631.5,618.0 C1633.4,622.8 1636.0,629.9 1639.2,637.3 C1642.4,644.7 1646.2,653.9 1650.7,662.2 C1655.2,670.5 1660.9,679.8 1666.0,687.2 C1671.1,694.6 1676.9,699.7 1681.4,706.4 C1685.9,713.1 1689.7,721.7 1692.9,727.5 C1696.1,733.3 1697.7,740.0 1700.6,741.0 C1703.5,742.0 1706.7,737.8 1710.2,733.3 C1713.7,728.8 1717.5,719.9 1721.7,714.1 C1725.9,708.3 1730.1,702.9 1735.2,698.7 C1740.3,694.5 1746.7,692.9 1752.5,689.1 C1758.3,685.3 1765.0,679.9 1769.8,675.7 C1774.6,671.6 1777.5,669.3 1781.3,664.2 C1785.1,659.1 1789.0,651.6 1792.8,644.9 C1796.6,638.2 1799.8,628.9 1804.3,623.8 C1808.8,618.7 1813.9,616.4 1819.7,614.2 C1825.5,612.0 1834.1,611.0 1838.9,610.4 C1843.7,609.8 1846.3,609.3 1848.5,610.4 C1850.7,611.5 1850.4,613.4 1852.0,617.0 C1853.6,620.6 1855.7,626.8 1858.0,632.0 C1860.3,637.2 1863.2,642.7 1866.0,648.0 C1868.8,653.3 1872.0,658.5 1875.0,664.0 C1878.0,669.5 1880.5,674.7 1884.0,681.0 C1887.5,687.3 1892.5,695.5 1896.0,702.0 C1899.5,708.5 1902.0,715.3 1905.0,720.0 C1908.0,724.7 1911.3,727.8 1914.0,730.0 C1916.7,732.2 1919.8,732.5 1921.0,733.0" stroke="#98B954" stroke-width="6.8"/>
<path d="M1260.0,763.0 C1261.2,763.0 1263.5,766.2 1267.0,763.0 C1270.5,759.8 1276.1,750.0 1281.0,743.5 C1285.9,737.0 1291.3,729.0 1296.5,724.0 C1301.7,719.0 1307.1,717.1 1312.0,713.5 C1316.9,709.9 1321.7,706.7 1326.0,702.5 C1330.3,698.3 1334.3,693.8 1338.0,688.5 C1341.7,683.2 1344.8,677.2 1348.0,671.0 C1351.2,664.8 1354.5,657.5 1357.5,651.0 C1360.5,644.5 1362.4,637.0 1365.7,632.0 C1369.0,627.0 1372.9,623.3 1377.5,621.0 C1382.1,618.7 1388.0,618.6 1393.3,618.2 C1398.5,617.8 1405.4,617.9 1409.0,618.7 C1412.6,619.5 1413.0,620.3 1415.0,623.0 C1417.0,625.7 1418.8,630.3 1421.0,635.0 C1423.2,639.7 1425.7,646.0 1428.0,651.0 C1430.3,656.0 1432.8,660.8 1435.0,665.0 C1437.2,669.2 1438.8,671.8 1441.0,676.0 C1443.2,680.2 1444.8,684.8 1448.0,690.0 C1451.2,695.2 1456.2,701.3 1460.0,707.0 C1463.8,712.7 1467.7,718.2 1471.0,724.0 C1474.3,729.8 1477.5,737.7 1480.0,742.0 C1482.5,746.3 1483.8,750.3 1486.0,750.0 C1488.2,749.7 1489.8,744.7 1493.0,740.0 C1496.2,735.3 1500.8,727.2 1505.0,722.0 C1509.2,716.8 1513.3,712.7 1518.0,709.0 C1522.7,705.3 1528.0,703.0 1533.0,700.0 C1538.0,697.0 1543.0,694.7 1548.0,691.0 C1553.0,687.3 1559.0,682.8 1563.0,678.0 C1567.0,673.2 1568.8,668.3 1572.0,662.0 C1575.2,655.7 1578.3,646.2 1582.0,640.0 C1585.7,633.8 1589.6,628.0 1594.0,625.0 C1598.4,622.0 1602.8,622.4 1608.4,621.9 C1614.0,621.4 1623.3,621.2 1627.6,621.9 C1631.9,622.6 1632.3,624.1 1634.0,626.0 C1635.7,627.9 1636.0,629.7 1638.0,633.0 C1640.0,636.3 1642.8,640.3 1646.0,646.0 C1649.2,651.7 1652.8,659.7 1657.0,667.0 C1661.2,674.3 1666.2,683.0 1671.0,690.0 C1675.8,697.0 1681.7,702.7 1686.0,709.0 C1690.3,715.3 1694.0,722.5 1697.0,728.0 C1700.0,733.5 1701.7,740.7 1704.0,742.0 C1706.3,743.3 1707.8,740.2 1711.0,736.0 C1714.2,731.8 1718.7,722.7 1723.0,717.0 C1727.3,711.3 1731.8,706.2 1737.0,702.0 C1742.2,697.8 1748.3,695.8 1754.0,692.0 C1759.7,688.2 1766.3,683.0 1771.0,679.0 C1775.7,675.0 1778.2,673.2 1782.0,668.0 C1785.8,662.8 1789.3,655.4 1794.0,648.0 C1798.7,640.6 1804.1,628.0 1810.1,623.8 C1816.1,619.5 1823.9,622.8 1830.0,622.5 C1836.1,622.2 1842.4,620.6 1846.6,621.9 C1850.8,623.1 1852.4,626.6 1855.0,630.0 C1857.6,633.4 1858.5,636.2 1862.0,642.0 C1865.5,647.8 1871.3,657.7 1876.0,665.0 C1880.7,672.3 1885.7,679.3 1890.0,686.0 C1894.3,692.7 1898.5,698.8 1902.0,705.0 C1905.5,711.2 1908.3,718.3 1911.0,723.0 C1913.7,727.7 1916.0,731.0 1918.0,733.0 C1920.0,735.0 1922.2,734.7 1923.0,735.0" stroke="#98B954" stroke-width="6.8"/>
</g>
<g font-family="Carlito, 'Liberation Sans', sans-serif" font-size="37" fill="#000" text-anchor="end">
<text transform="translate(1224,776.9) scale(1.1,1)" textLength="45.2" lengthAdjust="spacingAndGlyphs">0%</text>
<text transform="translate(1224,691.5) scale(1.1,1)" textLength="45.2" lengthAdjust="spacingAndGlyphs">1%</text>
<text transform="translate(1224,606.7) scale(1.1,1)" textLength="45.2" lengthAdjust="spacingAndGlyphs">2%</text>
<text transform="translate(1224,519.9) scale(1.1,1)" textLength="45.2" lengthAdjust="spacingAndGlyphs">3%</text>
<text transform="translate(1224,435.0) scale(1.1,1)" textLength="45.2" lengthAdjust="spacingAndGlyphs">4%</text>
<text transform="translate(1224,349.7) scale(1.1,1)" textLength="45.2" lengthAdjust="spacingAndGlyphs">5%</text>
<text transform="translate(1224,263.5) scale(1.1,1)" textLength="45.2" lengthAdjust="spacingAndGlyphs">6%</text>
</g>
<g font-family="Carlito, 'Liberation Sans', sans-serif" font-size="37" fill="#000" text-anchor="middle">
<text transform="translate(1260.7,828.4) scale(1.1,1)" textLength="18.77" lengthAdjust="spacingAndGlyphs">0</text>
<text transform="translate(1407.44,828.4) scale(1.1,1)" textLength="18.77" lengthAdjust="spacingAndGlyphs">2</text>
<text transform="translate(1554.68,828.4) scale(1.1,1)" textLength="18.77" lengthAdjust="spacingAndGlyphs">4</text>
<text transform="translate(1701.92,828.4) scale(1.1,1)" textLength="18.77" lengthAdjust="spacingAndGlyphs">6</text>
<text transform="translate(1849.16,828.4) scale(1.1,1)" textLength="18.77" lengthAdjust="spacingAndGlyphs">8</text>
<text transform="translate(1996.4,828.4) scale(1.1,1)" textLength="37.52" lengthAdjust="spacingAndGlyphs">10</text>
</g>
<text x="1786.9" y="305.6" font-family="'Liberation Sans', Arial, sans-serif" font-size="40" fill="#4F81BD">Anode A</text>
<text x="1786.9" y="354.2" font-family="'Liberation Sans', Arial, sans-serif" font-size="40" fill="#C0504D">Anode B</text>
<text x="1786.9" y="401" font-family="'Liberation Sans', Arial, sans-serif" font-size="40" fill="#9BBB59">Anode C</text>
<text transform="translate(1154.6,565.5) rotate(-90)" font-family="Carlito, 'Liberation Sans', sans-serif" font-weight="bold" font-size="39.5" fill="#000" textLength="116.2" lengthAdjust="spacingAndGlyphs">ΔTHK%</text>
<text x="1569.2" y="881" font-family="Carlito, 'Liberation Sans', sans-serif" font-weight="bold" font-size="37" fill="#000" textLength="120" lengthAdjust="spacingAndGlyphs">Time(h)</text>
</svg>
</body></html>
